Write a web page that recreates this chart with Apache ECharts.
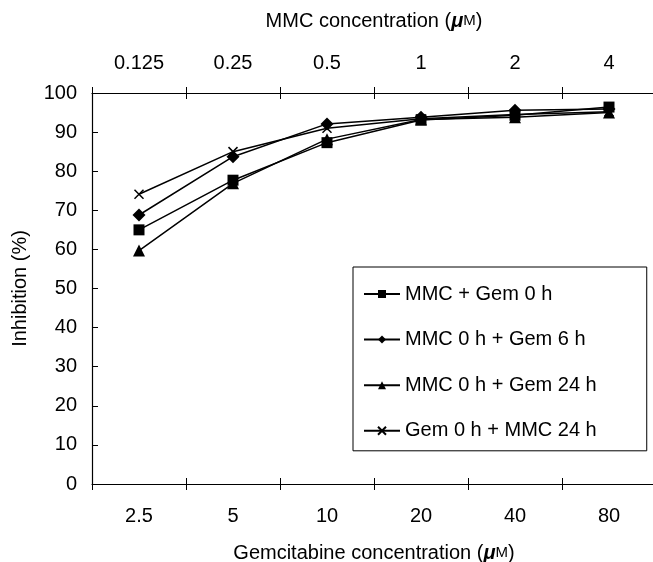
<!DOCTYPE html>
<html>
<head>
<meta charset="utf-8">
<script src="https://cdn.jsdelivr.net/npm/echarts@6/dist/echarts.min.js"></script>
<style>html,body{margin:0;padding:0;background:#fff}#c{width:653px;height:562px}</style>
</head>
<body>
<div id="c"></div>
<script>
var gemConc = ['2.5', '5', '10', '20', '40', '80'];
var mmcConc = ['0.125', '0.25', '0.5', '1', '2', '4'];
var seriesNames = ['MMC + Gem 0 h', 'MMC 0 h + Gem 6 h', 'MMC 0 h + Gem 24 h', 'Gem 0 h + MMC 24 h'];
var mmcGem0 = [65.0, 77.7, 87.3, 93.1, 94.3, 96.4];
var mmc0Gem6 = [68.8, 83.7, 92.1, 93.8, 95.6, 95.9];
var mmc0Gem24 = [59.7, 76.9, 88.2, 93.2, 93.8, 95.0];
var gem0Mmc24 = [74.1, 85.0, 91.0, 93.4, 94.5, 95.2];
var yTicks = [0, 100, 10];

var FONT = 'Liberation Sans';
var FS = 20;
var crossPath = 'path://M0,0L10,10M10,0L0,10';
var rich = {
  a: {fontFamily: FONT, fontSize: FS, color: '#000'},
  b: {fontFamily: FONT, fontSize: FS, fontStyle: 'italic', fontWeight: 'bold', color: '#000'},
  c: {fontFamily: FONT, fontSize: 15, color: '#000'}
};
function mkSeries(name, data, symbol, size, extra) {
  var s = {
    name: name, type: 'line', data: data, xAxisIndex: 0,
    symbol: symbol, symbolSize: size,
    lineStyle: {color: '#000', width: 1.5},
    itemStyle: {color: '#000'},
    emphasis: {disabled: true}, animation: false
  };
  if (extra) Object.assign(s.itemStyle, extra);
  return s;
}
var tickStyle = {color: '#000', width: 1};
var chart = echarts.init(document.getElementById('c'), null, {renderer: 'canvas'});
chart.setOption({
  animation: false,
  backgroundColor: '#fff',
  grid: {left: 92, top: 93, width: 564, height: 391, containLabel: false, outerBoundsMode: 'none'},
  legend: {
    orient: 'vertical', left: 353, top: 267,
    padding: [17, 50, 10, 10],
    borderColor: '#000', borderWidth: 1,
    itemWidth: 36, itemHeight: 10, itemGap: 25.6,
    textStyle: {fontFamily: FONT, fontSize: FS, color: '#000', lineHeight: 20},
    data: seriesNames
  },
  xAxis: [
    {type: 'category', data: gemConc, position: 'bottom', boundaryGap: true,
     axisLine: {show: true, lineStyle: {color: '#000', width: 1.2}},
     axisTick: {show: true, inside: false, length: 6, lineStyle: tickStyle},
     axisLabel: {fontFamily: FONT, fontSize: FS, color: '#000', margin: 22},
     name: '{a|Gemcitabine concentration (}{b|μ}{c|M}{a|)}', nameLocation: 'middle', nameGap: 59,
     nameTextStyle: {rich: rich},
     splitLine: {show: false}},
    {type: 'category', data: gemConc, position: 'bottom', boundaryGap: true,
     axisLine: {show: false}, axisTick: {show: true, inside: true, length: 6, lineStyle: tickStyle},
     axisLabel: {show: false}, splitLine: {show: false}},
    {type: 'category', data: mmcConc, position: 'top', boundaryGap: true,
     axisLine: {show: true, lineStyle: {color: '#000', width: 1.2}},
     axisTick: {show: true, inside: false, length: 6, lineStyle: tickStyle},
     axisLabel: {fontFamily: FONT, fontSize: FS, color: '#000', margin: 20},
     name: '{a|MMC concentration (}{b|μ}{c|M}{a|)}', nameLocation: 'middle', nameGap: 62,
     nameTextStyle: {rich: rich},
     splitLine: {show: false}},
    {type: 'category', data: mmcConc, position: 'top', boundaryGap: true,
     axisLine: {show: false}, axisTick: {show: true, inside: true, length: 6, lineStyle: tickStyle},
     axisLabel: {show: false}, splitLine: {show: false}}
  ],
  yAxis: {
    type: 'value', min: yTicks[0], max: yTicks[1], interval: yTicks[2],
    axisLine: {show: true, lineStyle: {color: '#000', width: 1.2}},
    axisTick: {show: true, inside: true, length: 6, lineStyle: tickStyle},
    axisLabel: {fontFamily: FONT, fontSize: FS, color: '#000', margin: 15},
    splitLine: {show: false},
    name: 'Inhibition (%)', nameLocation: 'middle', nameGap: 62,
    nameTextStyle: {fontFamily: FONT, fontSize: FS, color: '#000'}
  },
  series: [
    mkSeries(seriesNames[0], mmcGem0, 'rect', 11),
    mkSeries(seriesNames[1], mmc0Gem6, 'diamond', 13),
    mkSeries(seriesNames[2], mmc0Gem24, 'triangle', 12),
    mkSeries(seriesNames[3], gem0Mmc24, crossPath, 9, {borderColor: '#000', borderWidth: 1.5, color: 'none'})
  ]
});
</script>
</body>
</html>
